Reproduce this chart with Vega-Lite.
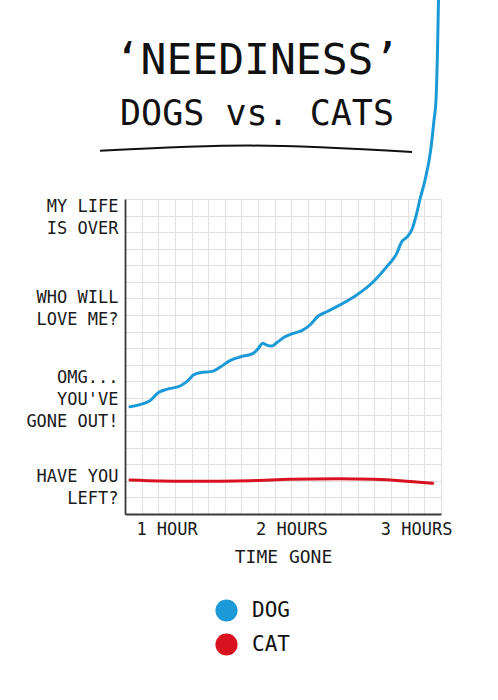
{
  "$schema": "https://vega.github.io/schema/vega-lite/v6.json",
  "width": 316,
  "height": 315,
  "autosize": {"type": "none"},
  "padding": {"left": 125, "top": 199, "right": 57, "bottom": 186},
  "background": "white",
  "title": {
    "text": "‘NEEDINESS’",
    "subtitle": "DOGS vs. CATS",
    "font": "DejaVu Sans Mono",
    "fontSize": 43,
    "fontWeight": "normal",
    "color": "#111111",
    "subtitleFont": "DejaVu Sans Mono",
    "subtitleFontSize": 35,
    "subtitleFontWeight": "normal",
    "subtitleColor": "#111111",
    "subtitlePadding": 14,
    "anchor": "middle",
    "frame": "group",
    "dx": -26,
    "offset": -146
  },
  "config": {"view": {"stroke": null}, "font": "DejaVu Sans Mono"},
  "resolve": {"axis": {"x": "independent", "y": "independent"}},
  "layer": [
    {
      "data": {
        "values": [
          {"pet": "DOG", "t": 0.30, "n": 6.47},
          {"pet": "DOG", "t": 1.50, "n": 6.83},
          {"pet": "DOG", "t": 2.00, "n": 7.32},
          {"pet": "DOG", "t": 2.51, "n": 7.52},
          {"pet": "DOG", "t": 3.31, "n": 7.72},
          {"pet": "DOG", "t": 3.71, "n": 7.98},
          {"pet": "DOG", "t": 4.11, "n": 8.38},
          {"pet": "DOG", "t": 4.51, "n": 8.52},
          {"pet": "DOG", "t": 5.31, "n": 8.62},
          {"pet": "DOG", "t": 5.71, "n": 8.85},
          {"pet": "DOG", "t": 6.31, "n": 9.25},
          {"pet": "DOG", "t": 6.91, "n": 9.47},
          {"pet": "DOG", "t": 7.71, "n": 9.69},
          {"pet": "DOG", "t": 8.02, "n": 9.99},
          {"pet": "DOG", "t": 8.28, "n": 10.30},
          {"pet": "DOG", "t": 8.52, "n": 10.19},
          {"pet": "DOG", "t": 8.82, "n": 10.13},
          {"pet": "DOG", "t": 9.12, "n": 10.33},
          {"pet": "DOG", "t": 9.52, "n": 10.63},
          {"pet": "DOG", "t": 10.02, "n": 10.86},
          {"pet": "DOG", "t": 10.63, "n": 11.06},
          {"pet": "DOG", "t": 11.12, "n": 11.40},
          {"pet": "DOG", "t": 11.62, "n": 11.94},
          {"pet": "DOG", "t": 12.13, "n": 12.20},
          {"pet": "DOG", "t": 12.93, "n": 12.61},
          {"pet": "DOG", "t": 13.93, "n": 13.21},
          {"pet": "DOG", "t": 14.93, "n": 14.01},
          {"pet": "DOG", "t": 15.74, "n": 14.92},
          {"pet": "DOG", "t": 16.34, "n": 15.72},
          {"pet": "DOG", "t": 16.64, "n": 16.42},
          {"pet": "DOG", "t": 16.94, "n": 16.69},
          {"pet": "DOG", "t": 17.24, "n": 17.13},
          {"pet": "DOG", "t": 17.54, "n": 18.14},
          {"pet": "DOG", "t": 17.74, "n": 19.0},
          {"pet": "DOG", "t": 18.04, "n": 20.14},
          {"pet": "DOG", "t": 18.38, "n": 21.95},
          {"pet": "DOG", "t": 18.58, "n": 23.76},
          {"pet": "DOG", "t": 18.70, "n": 24.97},
          {"pet": "DOG", "t": 18.79, "n": 27.99},
          {"pet": "DOG", "t": 18.86, "n": 31.5},
          {"pet": "CAT", "t": 0.30, "n": 2.05},
          {"pet": "CAT", "t": 2.10, "n": 1.99},
          {"pet": "CAT", "t": 3.91, "n": 1.97},
          {"pet": "CAT", "t": 7.52, "n": 2.01},
          {"pet": "CAT", "t": 9.92, "n": 2.09},
          {"pet": "CAT", "t": 12.93, "n": 2.13},
          {"pet": "CAT", "t": 14.93, "n": 2.09},
          {"pet": "CAT", "t": 16.54, "n": 2.01},
          {"pet": "CAT", "t": 18.50, "n": 1.85}
        ]
      },
      "mark": {"type": "line", "strokeWidth": 3, "interpolate": "monotone", "clip": false, "strokeCap": "round"},
      "encoding": {
        "x": {
          "field": "t", "type": "quantitative",
          "scale": {"domain": [0, 19], "nice": false, "zero": false},
          "axis": {
            "orient": "bottom",
            "values": [0,1,2,3,4,5,6,7,8,9,10,11,12,13,14,15,16,17,18,19],
            "grid": true, "gridColor": "#e2e2e2", "gridWidth": 1,
            "labels": false, "ticks": false, "tickSize": 0,
            "domain": true, "domainColor": "#3a3a3a", "domainWidth": 1.8,
            "title": null
          }
        },
        "y": {
          "field": "n", "type": "quantitative",
          "scale": {"domain": [0, 19], "nice": false, "zero": false},
          "axis": {
            "orient": "left",
            "values": [0,1,2,3,4,5,6,7,8,9,10,11,12,13,14,15,16,17,18,19],
            "grid": true, "gridColor": "#e2e2e2", "gridWidth": 1,
            "labels": false, "ticks": false, "tickSize": 0,
            "domain": true, "domainColor": "#3a3a3a", "domainWidth": 1.8,
            "title": null
          }
        },
        "color": {
          "field": "pet", "type": "nominal",
          "scale": {"domain": ["DOG", "CAT"], "range": ["#1b9ad7", "#d9121f"]},
          "legend": {
            "title": null,
            "orient": "none",
            "legendX": 90,
            "legendY": 400,
            "symbolType": "circle",
            "symbolSize": 490,
            "symbolStrokeWidth": 0,
            "labelFont": "DejaVu Sans Mono",
            "labelFontSize": 21,
            "labelColor": "#111111",
            "labelOffset": 14,
            "rowPadding": 11,
            "encode": {
              "symbols": {
                "update": {
                  "fill": {"scale": "color", "field": "value"},
                  "fillOpacity": {"value": 1},
                  "strokeWidth": {"value": 0}
                }
              }
            }
          }
        }
      }
    },
    {
      "data": {
        "values": [
          {"t": -1.5, "n": 21.91},
          {"t": 7.52, "n": 22.22},
          {"t": 17.26, "n": 21.83}
        ]
      },
      "mark": {"type": "line", "color": "#111111", "strokeWidth": 2, "interpolate": "monotone", "clip": false},
      "encoding": {
        "x": {
          "field": "t", "type": "quantitative",
          "axis": {
            "orient": "bottom",
            "values": [2.5, 10, 17.5],
            "labelExpr": "datum.value < 5 ? '1 HOUR' : datum.value < 14 ? '2 HOURS' : '3 HOURS'",
            "grid": false, "ticks": false, "tickSize": 0, "domain": false,
            "labelFont": "DejaVu Sans Mono", "labelFontSize": 17, "labelColor": "#1a1a1a",
            "labelPadding": 7, "labelFlush": false, "labelOverlap": false,
            "title": "TIME GONE",
            "titleFont": "DejaVu Sans Mono", "titleFontSize": 18, "titleFontWeight": "normal",
            "titleColor": "#1a1a1a", "titlePadding": 11
          }
        },
        "y": {
          "field": "n", "type": "quantitative",
          "axis": {
            "orient": "left",
            "values": [2.29, 8.24, 13.07, 18.52],
            "labelExpr": "datum.value < 5 ? ['HAVE YOU', 'LEFT?'] : datum.value < 10 ? ['OMG...', \"YOU'VE\", 'GONE OUT!'] : datum.value < 15 ? ['WHO WILL', 'LOVE ME?'] : ['MY LIFE', 'IS OVER']",
            "grid": false, "ticks": false, "tickSize": 0, "domain": false,
            "labelFont": "DejaVu Sans Mono", "labelFontSize": 17, "labelColor": "#1a1a1a",
            "labelPadding": 7, "labelLineHeight": 22, "labelFlush": false, "labelOverlap": false,
            "labelBaseline": "middle",
            "title": null
          }
        }
      }
    }
  ]
}
